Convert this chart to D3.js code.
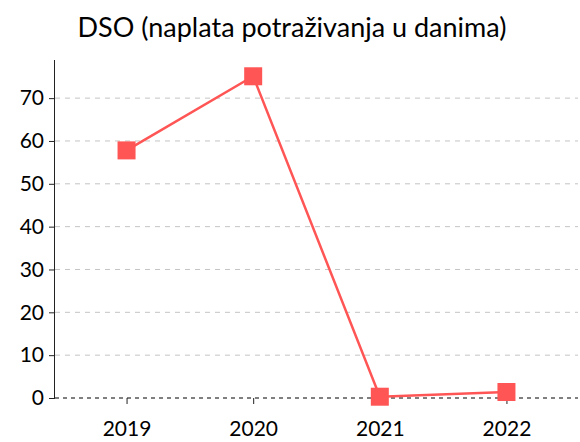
<!DOCTYPE html>
<html>
<head>
<meta charset="utf-8">
<script src="https://cdn.jsdelivr.net/npm/d3@7"></script>
<style>
  body { margin: 0; background: #fff; }
  text { font-family: Lato, "Open Sans", sans-serif; }
</style>
</head>
<body>
<div id="chart"></div>
<script>
  const years = ["2019", "2020", "2021", "2022"];
  const dso = [57.8, 75.1, 0.3, 1.4];
  const yTicks = [0, 10, 20, 30, 40, 50, 60, 70];
  const title = "DSO (naplata potraživanja u danima)";

  const width = 580;
  const height = 442;
  const margin = { top: 60, right: 2, bottom: 44, left: 55 };

  const data = years.map((y, i) => ({ year: y, value: dso[i] }));

  const svg = d3.select("#chart")
    .append("svg")
    .attr("width", width)
    .attr("height", height);

  const x = d3.scalePoint()
    .domain(years)
    .range([margin.left, width - margin.right])
    .padding(0.565);

  const y = d3.scaleLinear()
    .domain([0, 78.9])
    .range([height - margin.bottom, margin.top]);

  // grid
  svg.append("g")
    .selectAll("line")
    .data(yTicks.filter(d => d > 0))
    .join("line")
    .attr("x1", margin.left)
    .attr("x2", width - margin.right)
    .attr("y1", d => y(d))
    .attr("y2", d => y(d))
    .attr("stroke", "#c4c4c4")
    .attr("stroke-width", 1)
    .attr("stroke-dasharray", "5,5");

  // zero line
  svg.append("line")
    .attr("x1", margin.left)
    .attr("x2", width - margin.right)
    .attr("y1", y(0))
    .attr("y2", y(0))
    .attr("stroke", "#000")
    .attr("stroke-width", 1)
    .attr("stroke-dasharray", "4,4");

  // y axis
  const yAxis = svg.append("g")
    .attr("transform", `translate(${margin.left},0)`)
    .call(d3.axisLeft(y).tickValues(yTicks).tickSize(6).tickPadding(5));
  yAxis.select(".domain").attr("d", `M-0.5,${y(0)}V${margin.top}`).attr("stroke", "#222");
  yAxis.selectAll(".tick line").attr("stroke", "#222");
  yAxis.selectAll("text")
    .style("font-size", "21px")
    .attr("fill", "#000");

  // x axis
  const xAxis = svg.append("g")
    .attr("transform", `translate(0,${y(0)})`)
    .call(d3.axisBottom(x).tickSize(6).tickPadding(17));
  xAxis.select(".domain").remove();
  xAxis.selectAll(".tick line").attr("stroke", "#222");
  xAxis.selectAll("text")
    .style("font-size", "21px")
    .attr("fill", "#000");

  const line = d3.line()
    .x(d => x(d.year))
    .y(d => y(d.value));

  svg.append("path")
    .datum(data)
    .attr("fill", "none")
    .attr("stroke", "#ff5555")
    .attr("stroke-width", 2.5)
    .attr("d", line);

  const m = 18;
  svg.append("g")
    .selectAll("rect")
    .data(data)
    .join("rect")
    .attr("x", d => x(d.year) - m / 2)
    .attr("y", d => y(d.value) - m / 2)
    .attr("width", m)
    .attr("height", m)
    .attr("fill", "#ff5555");

  svg.append("text")
    .attr("x", 292)
    .attr("y", 37)
    .attr("text-anchor", "middle")
    .style("font-size", "27px")
    .attr("fill", "#000")
    .text(title);
</script>
</body>
</html>
